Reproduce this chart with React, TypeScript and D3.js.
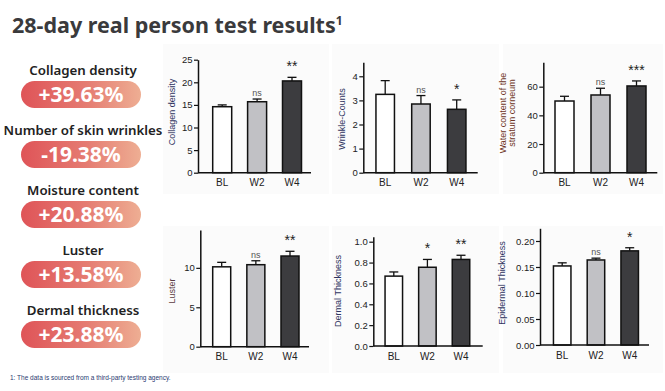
import React, { useEffect, useRef } from "react";
import * as d3 from "d3";

// left side summary
const metricNames = ["Collagen density", "Number of skin wrinkles", "Moisture content", "Luster", "Dermal thickness"];
const metricChanges = ["+39.63%", "-19.38%", "+20.88%", "+13.58%", "+23.88%"];

// bar charts
const groups = ["BL", "W2", "W4"];
const barFills = ["#ffffff", "#c1c1c5", "#3c3c3f"];

const collagenMeans = [14.6, 15.7, 20.3];
const collagenErr = [0.4, 0.6, 0.8];
const collagenSig = ["", "ns", "**"];
const collagenTicks = [0, 5, 10, 15, 20, 25];

const wrinkleMeans = [3.25, 2.85, 2.63];
const wrinkleErr = [0.57, 0.35, 0.39];
const wrinkleSig = ["", "ns", "*"];
const wrinkleTicks = [0, 1, 2, 3, 4];

const waterMeans = [50, 54.2, 60.5];
const waterErr = [3.3, 4.7, 3.5];
const waterSig = ["", "ns", "***"];
const waterTicks = [0, 20, 40, 60];

const lusterMeans = [10.13, 10.4, 11.5];
const lusterErr = [0.57, 0.5, 0.6];
const lusterSig = ["", "ns", "**"];
const lusterTicks = [0, 5, 10];

const dermalMeans = [0.67, 0.755, 0.83];
const dermalErr = [0.04, 0.075, 0.04];
const dermalSig = ["", "*", "**"];
const dermalTicks = [0, 0.2, 0.4, 0.6, 0.8, 1.0];

const epiMeans = [0.152, 0.1635, 0.181];
const epiErr = [0.006, 0.0035, 0.006];
const epiSig = ["", "ns", "*"];
const epiTicks = [0, 0.05, 0.1, 0.15, 0.2];

const chartFont = "'Liberation Sans', Arial, sans-serif";
const headFont = "'Noto Sans', 'Open Sans', sans-serif";

type PanelProps = {
  label: string[];
  labelX: number;
  labelY: number;
  labelColor: string;
  means: number[];
  errs: number[];
  sig: string[];
  ticks: number[];
  fmt: string;
  yMax: number;
  y0: number;
  yTop: number;
  axisX: number;
  axisEnd: number;
  firstX: number;
  lastX: number;
  barW: number;
};

function BarPanel(p: PanelProps) {
  const axisRef = useRef<SVGGElement>(null);
  const y = d3.scaleLinear().domain([0, p.yMax]).range([p.y0, p.yTop]);
  const x = d3.scalePoint<string>().domain(groups).range([p.firstX, p.lastX]);

  useEffect(() => {
    const g = d3.select(axisRef.current);
    g.selectAll("*").remove();
    g.call(
      d3.axisLeft(y).tickValues(p.ticks).tickSize(4).tickSizeOuter(0).tickFormat(d3.format(p.fmt) as any)
    );
    g.select(".domain").attr("stroke", "#111").attr("stroke-width", 1.5);
    g.selectAll(".tick line").attr("stroke", "#111").attr("stroke-width", 1.2);
    g.selectAll(".tick text")
      .attr("font-family", chartFont)
      .attr("font-size", 9.5)
      .attr("fill", "#222")
      .attr("x", -5.5);
  });

  return (
    <g>
      {groups.map((k, i) => {
        const cx = x(k)!;
        const top = y(p.means[i]);
        const errTop = y(p.means[i] + p.errs[i]);
        return (
          <g key={k}>
            <line x1={cx} x2={cx} y1={top} y2={errTop} stroke="#111" strokeWidth={1.3} />
            <line x1={cx - 4.5} x2={cx + 4.5} y1={errTop} y2={errTop} stroke="#111" strokeWidth={1.3} />
            <rect x={cx - p.barW / 2} y={top} width={p.barW} height={p.y0 - top}
              fill={barFills[i]} stroke="#111" strokeWidth={1.5} />
            <text x={cx} y={p.y0 + 13.5} textAnchor="middle" fontFamily={chartFont} fontSize={10} fill="#222">{k}</text>
            {p.sig[i] === "ns" && (
              <text x={cx} y={errTop - 3} textAnchor="middle" fontFamily={chartFont} fontSize={9} fill="#555">ns</text>
            )}
            {p.sig[i] && p.sig[i] !== "ns" && (
              <text x={cx} y={errTop - 6} textAnchor="middle" fontFamily={chartFont} fontSize={14} fill="#222">{p.sig[i]}</text>
            )}
          </g>
        );
      })}
      <line x1={p.axisX} x2={p.axisEnd} y1={p.y0} y2={p.y0} stroke="#111" strokeWidth={1.5} />
      <g ref={axisRef} transform={`translate(${p.axisX},0)`} />
      <text transform={`translate(${p.labelX},${p.labelY}) rotate(-90)`} textAnchor="middle"
        fontFamily={chartFont} fontSize={9} fill={p.labelColor}>
        {p.label.map((l, i) => (
          <tspan key={i} x={0} dy={i === 0 ? (p.label.length > 1 ? -2 : 3) : 9}>{l}</tspan>
        ))}
      </text>
    </g>
  );
}

const panelBoxes = [
  [163, 44, 166, 150], [332, 44, 167, 150], [503, 44, 160, 150],
  [163, 226, 166, 147], [332, 226, 167, 147], [503, 226, 160, 147],
];

export default function App() {
  return (
    <svg width={665} height={391} style={{ position: "absolute", left: 0, top: 0, background: "#fff" }}>
      <defs>
        <linearGradient id="pill" x1="0" x2="1" y1="0" y2="0">
          <stop offset="0" stopColor="#df5458" />
          <stop offset="0.55" stopColor="#e57c72" />
          <stop offset="1" stopColor="#eeae93" />
        </linearGradient>
      </defs>

      <text x={12} y={33} fontFamily={headFont} fontWeight={700} fontSize={21.5} fill="#3a3a3c">
        28-day real person test results<tspan fontSize={12} dy={-8}>1</tspan>
      </text>

      {metricNames.map((m, i) => (
        <g key={m}>
          <text x={83} y={75 + i * 60} textAnchor="middle" fontFamily={headFont}
            fontWeight={600} fontSize={13.3} fill="#222">{m}</text>
          <rect x={21} y={81 + i * 60} width={120} height={27} rx={13.5} fill="url(#pill)" />
          <text x={81} y={102 + i * 60} textAnchor="middle" fontFamily={headFont}
            fontWeight={700} fontSize={21} fill="#fff">{metricChanges[i]}</text>
        </g>
      ))}

      {panelBoxes.map((b, i) => (
        <rect key={i} x={b[0]} y={b[1]} width={b[2]} height={b[3]} fill="#fbfbfb" />
      ))}

      <BarPanel label={["Collagen density"]} labelX={171.7} labelY={112} labelColor="#2e3360"
        means={collagenMeans} errs={collagenErr} sig={collagenSig} ticks={collagenTicks} fmt="d"
        yMax={25} y0={172.7} yTop={59.7} axisX={198} axisEnd={311} firstX={222.2} lastX={292} barW={19} />
      <BarPanel label={["Wrinkle-Counts"]} labelX={341.7} labelY={119} labelColor="#2e3360"
        means={wrinkleMeans} errs={wrinkleErr} sig={wrinkleSig} ticks={wrinkleTicks} fmt="d"
        yMax={4.58} y0={172.7} yTop={62.3} axisX={363.3} axisEnd={477.7} firstX={385.2} lastX={456.7} barW={18.5} />
      <BarPanel label={["Water content of the", "stratum corneum"]} labelX={508} labelY={113} labelColor="#6e3424"
        means={waterMeans} errs={waterErr} sig={waterSig} ticks={waterTicks} fmt="d"
        yMax={77} y0={172.7} yTop={62.3} axisX={543.3} axisEnd={657.3} firstX={564.5} lastX={636.5} barW={19} />
      <BarPanel label={["Luster"]} labelX={171.7} labelY={291} labelColor="#5a3a40"
        means={lusterMeans} errs={lusterErr} sig={lusterSig} ticks={lusterTicks} fmt="d"
        yMax={14.8} y0={346.7} yTop={230} axisX={200.3} axisEnd={309} firstX={221.7} lastX={290} barW={18} />
      <BarPanel label={["Dermal Thickness"]} labelX={338.3} labelY={291} labelColor="#2e3360"
        means={dermalMeans} errs={dermalErr} sig={dermalSig} ticks={dermalTicks} fmt=".1f"
        yMax={1.048} y0={346} yTop={236.7} axisX={373.3} axisEnd={482.7} firstX={393.8} lastX={461} barW={17.5} />
      <BarPanel label={["Epidermal Thickness"]} labelX={501.7} labelY={283} labelColor="#2e3360"
        means={epiMeans} errs={epiErr} sig={epiSig} ticks={epiTicks} fmt=".2f"
        yMax={0.2244} y0={345} yTop={228.3} axisX={540} axisEnd={649} firstX={562.2} lastX={629.7} barW={17.5} />

      <text x={10} y={380} fontFamily={chartFont} fontSize={6.5} fill="#2a3a70">
        1: The data is sourced from a third-party testing agency.
      </text>
    </svg>
  );
}
